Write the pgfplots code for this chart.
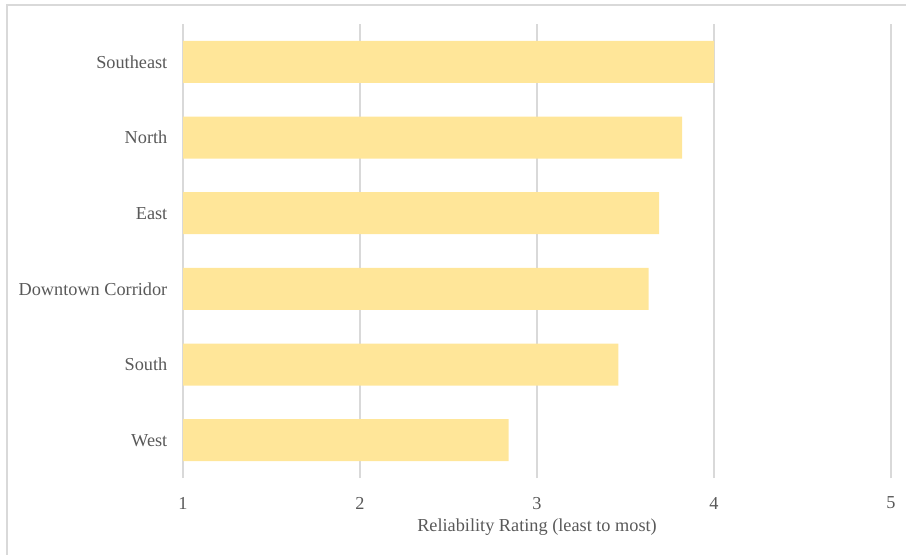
\documentclass[border=0pt]{standalone}
\usepackage{fontspec}
\setmainfont{Liberation Serif}
\usepackage{pgfplots}
\pgfplotsset{compat=1.18}
\definecolor{barfill}{HTML}{FFE699}
\definecolor{gridgray}{HTML}{D9D9D9}
\definecolor{textgray}{HTML}{595959}
\begin{document}
\fontsize{13.7pt}{16pt}\selectfont
\begin{tikzpicture}
\useasboundingbox (0,0) rectangle (679.5pt,415.5pt);
% outer chart frame
\draw[gridgray, line width=1.4pt] (5.25pt,-2pt) -- (5.25pt,411.75pt) -- (682pt,411.75pt);
\begin{axis}[
  at={(137.25pt,57pt)}, anchor=south west,
  width=531pt, height=340.5pt, scale only axis,
  xbar, bar width=31.5pt, bar shift=0pt,
  xmin=1, xmax=5, ymin=-0.5, ymax=5.5,
  xtick={1,2,3,4,5},
  ytick={0,1,2,3,4,5},
  yticklabels={West,South,Downtown Corridor,East,North,Southeast},
  axis line style={draw=none},
  major tick length=0pt,
  xmajorgrids, grid style={gridgray, line width=1.1pt},
  tick label style={font=\fontsize{13.7pt}{16pt}\selectfont, text=textgray},
  /pgf/number format/assume math mode=true,
  yticklabel style={xshift=-7pt},
  xticklabel style={yshift=-9.5pt},
  xlabel={Reliability Rating (least to most)},
  xlabel style={font=\fontsize{13.7pt}{16pt}\selectfont, text=textgray,
    at={(axis description cs:0.5,0)}, anchor=center, yshift=-37pt},
]
\addplot[fill=barfill, draw=none] coordinates {
  (2.84,0) (3.46,1) (3.63,2) (3.69,3) (3.82,4) (4.00,5)
};
\end{axis}
\end{tikzpicture}
\end{document}
